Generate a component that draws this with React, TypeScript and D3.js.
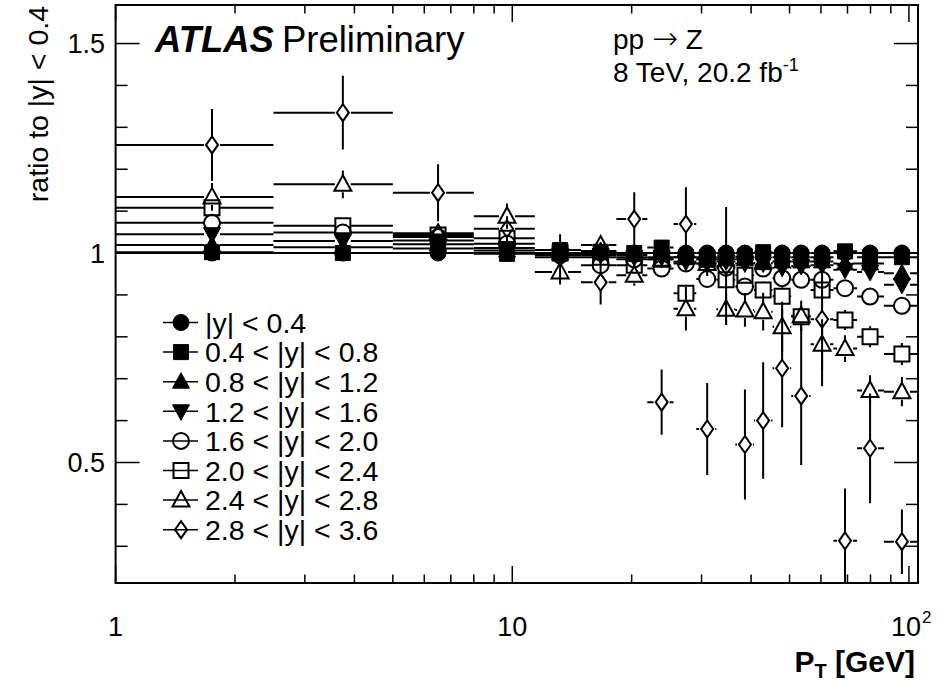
import React from 'react';
import * as d3 from 'd3';

// ---------- data ----------
const ptCenters = [1.75, 3.74, 6.5, 9.7, 13.2, 16.7, 20.3, 23.8, 27.4, 31.0, 34.6, 38.6, 42.9, 47.9, 53.5, 60.4, 69.0, 79.8, 96.0];
const ptEdges = [0.5, 2.5, 5, 8, 11.4, 14.9, 18.3, 21.9, 25.5, 29.1, 32.7, 36.5, 40.7, 45.3, 50.5, 56.5, 64.5, 74, 86.5, 110];

const seriesLabels = [
  '|y| < 0.4',
  '0.4 < |y| < 0.8',
  '0.8 < |y| < 1.2',
  '1.2 < |y| < 1.6',
  '1.6 < |y| < 2.0',
  '2.0 < |y| < 2.4',
  '2.4 < |y| < 2.8',
  '2.8 < |y| < 3.6',
];
const markerKinds = ['circle', 'square', 'triUp', 'triDown', 'circle', 'square', 'triUp', 'diamond'];
const markerFilled = [true, true, true, true, false, false, false, false];

const ratioY00 = [1, 1, 1, 1, 1, 1, 1, 1, 1, 1, 1, 1, 1, 1, 1, 1, 1, 1, 1];
const errY00 = [0.003, 0.003, 0.003, 0.003, 0.004, 0.004, 0.004, 0.005, 0.005, 0.005, 0.006, 0.006, 0.006, 0.007, 0.007, 0.008, 0.008, 0.009, 0.01];
const ratioY04 = [1.002, 1.0, 1.011, 0.998, 1.007, 1.003, 1.0, 1.013, 0.99, 0.99, 0.99, 0.992, 1.002, 0.99, 0.99, 0.99, 1.004, 0.99, 0.99];
const errY04 = [0.004, 0.004, 0.004, 0.004, 0.005, 0.005, 0.005, 0.006, 0.006, 0.006, 0.007, 0.007, 0.007, 0.008, 0.008, 0.009, 0.009, 0.01, 0.011];
const ratioY08 = [1.019, 1.014, 1.021, 1.006, 1.0, 1.005, 0.995, 1.0, 0.99, 0.985, 0.985, 0.985, 0.976, 0.98, 0.98, 0.98, 0.975, 0.975, 0.952];
const errY08 = [0.004, 0.004, 0.004, 0.004, 0.005, 0.005, 0.005, 0.006, 0.006, 0.006, 0.007, 0.007, 0.007, 0.008, 0.008, 0.009, 0.009, 0.01, 0.011];
const ratioY12 = [1.045, 1.029, 1.03, 1.012, 0.995, 0.995, 0.99, 0.99, 0.979, 0.975, 0.98, 0.975, 0.975, 0.965, 0.969, 0.971, 0.96, 0.955, 0.924];
const errY12 = [0.005, 0.005, 0.005, 0.005, 0.006, 0.006, 0.006, 0.007, 0.007, 0.007, 0.008, 0.008, 0.008, 0.009, 0.009, 0.01, 0.01, 0.011, 0.012];
const ratioY16 = [1.072, 1.049, 1.038, 1.022, 0.995, 0.971, 0.985, 0.963, 0.975, 0.938, 0.965, 0.92, 0.963, 0.94, 0.936, 0.936, 0.916, 0.896, 0.874];
const errY16 = [0.006, 0.006, 0.006, 0.007, 0.008, 0.008, 0.009, 0.01, 0.011, 0.012, 0.013, 0.014, 0.015, 0.016, 0.017, 0.018, 0.018, 0.019, 0.02];
const ratioY20 = [1.108, 1.065, 1.043, 1.035, 1.0, 0.99, 0.971, 0.985, 0.904, 0.985, 0.936, 0.947, 0.912, 0.897, 0.848, 0.912, 0.84, 0.8, 0.759];
const errY20 = [0.012, 0.01, 0.01, 0.011, 0.012, 0.013, 0.014, 0.015, 0.016, 0.017, 0.018, 0.019, 0.02, 0.021, 0.022, 0.023, 0.024, 0.025, 0.026];
const ratioY24 = [1.134, 1.164, 1.047, 1.088, 0.955, 1.019, 0.947, 0.985, 0.867, 0.975, 0.866, 0.864, 0.86, 0.824, 0.85, 0.782, 0.772, 0.672, 0.669];
const errY24 = [0.033, 0.033, 0.02, 0.03, 0.03, 0.02, 0.025, 0.02, 0.052, 0.03, 0.036, 0.04, 0.045, 0.06, 0.036, 0.06, 0.032, 0.036, 0.035];
const ratioY28 = [1.258, 1.335, 1.144, 1.058, 0.99, 0.93, 1.081, 0.644, 1.069, 0.58, 0.969, 0.543, 0.6, 0.725, 0.659, 0.842, 0.313, 0.534, 0.311];
const errY28 = [0.086, 0.088, 0.068, 0.03, 0.055, 0.053, 0.064, 0.078, 0.088, 0.11, 0.141, 0.131, 0.139, 0.141, 0.165, 0.16, 0.125, 0.131, 0.077];

const seriesValues = [ratioY00, ratioY04, ratioY08, ratioY12, ratioY16, ratioY20, ratioY24, ratioY28];
const seriesErrors = [errY00, errY04, errY08, errY12, errY16, errY20, errY24, errY28];

const yMajorTicks = [0.5, 1, 1.5];
const yTickLabels = ['0.5', '1', '1.5'];
const yMinorTicks = [0.3, 0.4, 0.6, 0.7, 0.8, 0.9, 1.1, 1.2, 1.3, 1.4];
const xMajorTicks = [1, 10, 100];
const xMinorTicks = [2, 3, 4, 5, 6, 7, 8, 9, 20, 30, 40, 50, 60, 70, 80, 90];

// ---------- layout ----------
const W = 943;
const H = 683;
const L = 115.6, R = 918, T = 5, B = 583;
const FONT = "'Liberation Sans', Arial, Helvetica, sans-serif";

const x = d3.scaleLog().domain([1, 105.4]).range([L, R]);
const y = d3.scaleLinear().domain([0.2124, 1.592]).range([B, T]);

function markerPath(kind: string, cx: number, cy: number): string {
  const p = d3.path();
  if (kind === 'circle') {
    p.moveTo(cx + 8, cy);
    p.arc(cx, cy, 8, 0, Math.PI * 2);
  } else if (kind === 'square') {
    p.rect(cx - 7.5, cy - 7.5, 15, 15);
  } else if (kind === 'triUp') {
    p.moveTo(cx, cy - 9);
    p.lineTo(cx + 8.5, cy + 6.5);
    p.lineTo(cx - 8.5, cy + 6.5);
    p.closePath();
  } else if (kind === 'triDown') {
    p.moveTo(cx, cy + 9);
    p.lineTo(cx + 8.5, cy - 6.5);
    p.lineTo(cx - 8.5, cy - 6.5);
    p.closePath();
  } else {
    p.moveTo(cx, cy - 8.5);
    p.lineTo(cx + 6, cy);
    p.lineTo(cx, cy + 8.5);
    p.lineTo(cx - 6, cy);
    p.closePath();
  }
  return p.toString();
}

function Marker({ kind, filled, cx, cy }: { kind: string; filled: boolean; cx: number; cy: number }) {
  return (
    <path
      d={markerPath(kind, cx, cy)}
      fill={filled ? '#000' : 'none'}
      stroke="#000"
      strokeWidth={filled ? 1 : 2}
    />
  );
}

function Series({ si }: { si: number }) {
  const vals = seriesValues[si];
  const errs = seriesErrors[si];
  const kind = markerKinds[si];
  const filled = markerFilled[si];
  const gap = 8;
  return (
    <g>
      {vals.map((v, i) => {
        const cx = x(ptCenters[i]);
        const cy = y(v);
        const xl = x(ptEdges[i]);
        const xr = x(ptEdges[i + 1]);
        const yt = y(v + errs[i]);
        const yb = y(v - errs[i]);
        const segs: string[] = [];
        if (cx - gap > xl) segs.push(`M${xl},${cy}H${cx - gap}`);
        if (xr > cx + gap) segs.push(`M${cx + gap},${cy}H${xr}`);
        if (cy - gap > yt) segs.push(`M${cx},${yt}V${cy - gap}`);
        if (yb > cy + gap) segs.push(`M${cx},${cy + gap}V${yb}`);
        return (
          <g key={i}>
            <path d={segs.join('')} stroke="#000" strokeWidth={2} fill="none" />
            <Marker kind={kind} filled={filled} cx={cx} cy={cy} />
          </g>
        );
      })}
    </g>
  );
}

export default function App() {
  const legendX0 = 163, legendX1 = 198, legendMX = 181, legendTX = 205;
  const legendY0 = 322.5, legendDY = 29.6;
  return (
    <svg
      width={W}
      height={H}
      viewBox={`0 0 ${W} ${H}`}
      style={{ position: 'absolute', left: 0, top: 0, background: '#fff' }}
      fontFamily={FONT}
    >
      <rect x={0} y={0} width={W} height={H} fill="#fff" />
      <defs>
        <clipPath id="plotClip">
          <rect x={L} y={T} width={R - L} height={B - T} />
        </clipPath>
      </defs>

      {/* data */}
      <g clipPath="url(#plotClip)">
        {seriesValues.map((_, si) => (
          <Series key={si} si={si} />
        ))}
      </g>

      {/* frame */}
      <rect x={L} y={T} width={R - L} height={B - T} fill="none" stroke="#000" strokeWidth={2} />

      {/* ticks */}
      <g stroke="#000" strokeWidth={1.5}>
        {yMajorTicks.map((t) => (
          <g key={'ym' + t}>
            <line x1={L} x2={L + 24} y1={y(t)} y2={y(t)} />
            <line x1={R} x2={R - 24} y1={y(t)} y2={y(t)} />
          </g>
        ))}
        {yMinorTicks.map((t) => (
          <g key={'yn' + t}>
            <line x1={L} x2={L + 12} y1={y(t)} y2={y(t)} />
            <line x1={R} x2={R - 12} y1={y(t)} y2={y(t)} />
          </g>
        ))}
        {xMajorTicks.map((t) => (
          <g key={'xm' + t}>
            <line x1={x(t)} x2={x(t)} y1={B} y2={B - 17} />
            <line x1={x(t)} x2={x(t)} y1={T} y2={T + 17} />
          </g>
        ))}
        {xMinorTicks.map((t) => (
          <g key={'xn' + t}>
            <line x1={x(t)} x2={x(t)} y1={B} y2={B - 8.5} />
            <line x1={x(t)} x2={x(t)} y1={T} y2={T + 8.5} />
          </g>
        ))}
      </g>

      {/* y tick labels */}
      {yMajorTicks.map((t, i) => (
        <text key={'yl' + t} x={105} y={y(t)} dy="0.36em" textAnchor="end" fontSize={27}>
          {yTickLabels[i]}
        </text>
      ))}

      {/* x tick labels */}
      <text x={x(1)} y={636} textAnchor="middle" fontSize={27}>1</text>
      <text x={x(10)} y={636} textAnchor="middle" fontSize={27}>10</text>
      <text x={921} y={636} textAnchor="end" fontSize={27}>10</text>
      <text x={922} y={623} textAnchor="start" fontSize={17}>2</text>

      {/* axis titles */}
      <text x={915} y={672} textAnchor="end" fontSize={30} fontWeight="bold">
        <tspan>P</tspan>
        <tspan dy={6} fontSize={20}>T</tspan>
        <tspan dy={-6}> [GeV]</tspan>
      </text>
      <text transform="translate(48,6) rotate(-90)" textAnchor="end" fontSize={28.5}>
        ratio to |y| &lt; 0.4
      </text>

      {/* labels */}
      <text x={155} y={52} fontSize={36.5}>
        <tspan fontWeight="bold" fontStyle="italic">ATLAS</tspan>
        <tspan dx={8}>Preliminary</tspan>
      </text>
      <text x={613} y={49} fontSize={28}>
        pp <tspan fontFamily="'DejaVu Sans', sans-serif" fontSize={31} fontWeight={200}>→</tspan> Z
      </text>
      <text x={613} y={82} fontSize={28}>
        8 TeV, 20.2 fb<tspan dy={-11} fontSize={18}>-1</tspan>
      </text>

      {/* legend */}
      {seriesLabels.map((lab, i) => {
        const ly = legendY0 + i * legendDY;
        return (
          <g key={'lg' + i}>
            <line x1={legendX0} x2={legendX1} y1={ly} y2={ly} stroke="#000" strokeWidth={1.5} />
            <Marker kind={markerKinds[i]} filled={markerFilled[i]} cx={legendMX} cy={ly} />
            <text x={legendTX} y={ly} dy="0.36em" fontSize={28.5}>
              {lab}
            </text>
          </g>
        );
      })}
    </svg>
  );
}
